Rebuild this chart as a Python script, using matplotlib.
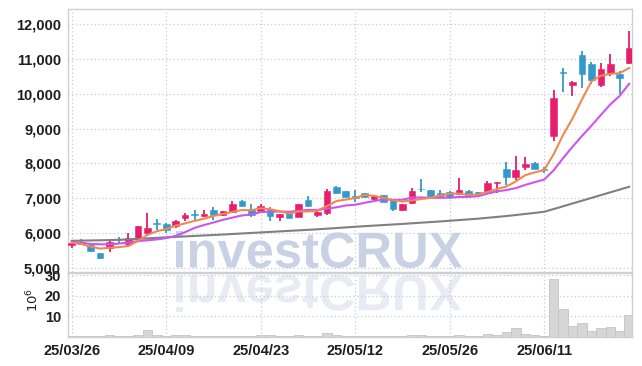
import matplotlib
matplotlib.use("Agg")
import matplotlib.pyplot as plt
from matplotlib.font_manager import FontProperties
from matplotlib.patches import PathPatch
from matplotlib.textpath import TextPath
from matplotlib.transforms import Affine2D, IdentityTransform
import numpy as np

# trading days shown (yy/mm/dd)
dates = [
    "25/03/26", "25/03/27", "25/03/28", "25/03/31", "25/04/01", "25/04/02", "25/04/03", "25/04/04",
    "25/04/07", "25/04/08", "25/04/09", "25/04/10", "25/04/11", "25/04/14", "25/04/15", "25/04/16",
    "25/04/17", "25/04/18", "25/04/21", "25/04/22", "25/04/23", "25/04/24", "25/04/25", "25/04/28",
    "25/04/29", "25/04/30", "25/05/02", "25/05/07", "25/05/08", "25/05/09", "25/05/12", "25/05/13",
    "25/05/14", "25/05/15", "25/05/16", "25/05/19", "25/05/20", "25/05/21", "25/05/22", "25/05/23",
    "25/05/26", "25/05/27", "25/05/28", "25/05/29", "25/05/30", "25/06/02", "25/06/04", "25/06/05",
    "25/06/09", "25/06/10", "25/06/11", "25/06/12", "25/06/13", "25/06/16", "25/06/17", "25/06/18",
    "25/06/19", "25/06/20", "25/06/23", "25/06/24",
]
tick_dates = ["25/03/26", "25/04/09", "25/04/23", "25/05/12", "25/05/26", "25/06/11"]

opens = [5650, 5750, 5650, 5430, 5570, 5810, 5690, 5840, 6000, 6280,
         6270, 6200, 6440, 6540, 6500, 6660, 6530, 6600, 6920, 6680,
         6640, 6680, 6470, 6600, 6470, 6950, 6530, 6590, 7320, 7200,
         7060, 7140, 6990, 7080, 6950, 6660, 6870, 7280, 7230, 7140,
         7190, 7120, 7200, 7180, 7180, 7430, 7830, 7600, 7900, 8020,
         7830, 8780, 10620, 10260, 11100, 10850, 10260, 10600, 10560, 10880]
highs = [5774, 5820, 5660, 5440, 5790, 5900, 6000, 6210, 6570, 6410,
         6280, 6390, 6570, 6650, 6650, 6750, 6640, 6910, 6950, 6850,
         6830, 6760, 6560, 6610, 6850, 7060, 6690, 7260, 7340, 7210,
         7240, 7160, 7100, 7090, 6960, 6850, 7300, 7540, 7250, 7230,
         7220, 7570, 7240, 7190, 7500, 7480, 8040, 8210, 8190, 8040,
         7900, 10100, 10750, 10360, 11230, 10920, 10870, 11130, 10640, 11800]
lows = [5560, 5650, 5460, 5250, 5450, 5710, 5610, 5830, 5950, 6090,
        6000, 6150, 6350, 6390, 6470, 6390, 6500, 6570, 6760, 6450,
        6630, 6350, 6360, 6420, 6460, 6760, 6450, 6520, 7120, 7030,
        6900, 7030, 6950, 6880, 6630, 6640, 6830, 7180, 7050, 7020,
        6980, 7100, 7060, 7060, 7170, 7160, 7390, 7520, 7810, 7830,
        7720, 8650, 10040, 9930, 10150, 10290, 10180, 10500, 9990, 10850]
closes = [5716, 5680, 5500, 5280, 5740, 5790, 5860, 6200, 6160, 6260,
          6100, 6350, 6530, 6520, 6560, 6510, 6630, 6830, 6780, 6530,
          6790, 6500, 6550, 6440, 6830, 6790, 6600, 7210, 7160, 7050,
          7020, 7050, 7060, 6900, 6700, 6830, 7210, 7260, 7060, 7060,
          7060, 7230, 7090, 7090, 7440, 7470, 7600, 7810, 7990, 7840,
          7800, 9870, 10580, 10350, 10560, 10390, 10700, 10850, 10450, 11300]

# moving averages as drawn (5, 10, 60 day)
ma5 = [5720, 5690, 5610, 5555, 5583, 5598, 5634, 5774, 5950, 6054,
       6116, 6214, 6280, 6352, 6412, 6494, 6550, 6610, 6662, 6656,
       6712, 6686, 6630, 6562, 6622, 6622, 6642, 6774, 6918, 6962,
       7008, 7098, 7068, 7016, 6946, 6908, 6940, 6980, 7012, 7084,
       7130, 7134, 7100, 7106, 7182, 7264, 7338, 7482, 7662, 7742,
       7808, 8262, 8816, 9288, 9832, 10350, 10516, 10570, 10590, 10738]
ma10 = [5745, 5720, 5690, 5680, 5680, 5700, 5730, 5770, 5795, 5819,
        5857, 5924, 6027, 6151, 6233, 6305, 6382, 6445, 6507, 6534,
        6603, 6618, 6620, 6612, 6639, 6667, 6664, 6702, 6740, 6792,
        6815, 6870, 6921, 6967, 6954, 6958, 7019, 7024, 7014, 7015,
        7019, 7037, 7040, 7059, 7133, 7197, 7236, 7291, 7384, 7462,
        7536, 7800, 8149, 8475, 8787, 9079, 9389, 9693, 9939, 10285]
ma60 = [5780, 5785, 5790, 5795, 5800, 5810, 5820, 5835, 5850, 5865,
        5880, 5893, 5906, 5920, 5933, 5946, 5960, 5975, 5990, 6005,
        6020, 6035, 6050, 6065, 6080, 6095, 6110, 6128, 6146, 6164,
        6182, 6200, 6216, 6232, 6248, 6264, 6282, 6300, 6318, 6336,
        6355, 6375, 6395, 6415, 6440, 6465, 6490, 6520, 6550, 6580,
        6613, 6690, 6770, 6850, 6930, 7010, 7090, 7170, 7250, 7330]

# volume in millions of shares
volume = [0.3, 0.3, 0.4, 0.6, 0.8, 0.4, 0.5, 1.2, 3.2, 1.0,
          0.6, 0.8, 0.8, 0.6, 0.4, 0.6, 0.5, 0.7, 0.4, 0.5,
          0.8, 0.8, 0.4, 0.5, 0.8, 0.7, 0.4, 1.8, 1.0, 0.5,
          0.4, 0.4, 0.3, 0.5, 0.4, 0.5, 1.0, 0.9, 0.4, 0.4,
          0.4, 0.8, 0.4, 0.4, 1.3, 0.8, 2.2, 4.2, 1.5, 1.0,
          0.5, 28.3, 13.4, 5.2, 7.0, 3.1, 4.2, 4.7, 3.1, 10.5]

UP = "#e61e6b"
DOWN = "#3399cc"
GRID = "#c5cbe0"
SPINE = "#d0d0d0"
LABEL = "#1e1e1e"

tick_font = FontProperties(family=["Liberation Sans", "DejaVu Sans"], weight="bold", size=10.5)

fig = plt.figure(figsize=(6.42, 3.66), dpi=100)
ax = fig.add_axes([68 / 642, 94 / 366, 564 / 642, 263 / 366])
axv = fig.add_axes([68 / 642, 29 / 366, 564 / 642, 64 / 366], sharex=ax)
for a in (ax, axv):
    a.set_facecolor("none")
    for s in a.spines.values():
        s.set_color(SPINE)
        s.set_linewidth(1.0)
    a.grid(True, color=GRID, linestyle=(0, (1, 2)), linewidth=0.9)
    a.tick_params(length=0, colors=LABEL, pad=5)

x = np.arange(len(dates))
o = np.array(opens)
c = np.array(closes)
colors = [UP if cc >= oo else DOWN for oo, cc in zip(o, c)]

ax.vlines(x, lows, highs, colors=colors, linewidth=1.3, zorder=3)
body = np.maximum(np.abs(c - o), 18)
ax.bar(x, body, bottom=np.minimum(o, c), width=0.7, color=colors,
       edgecolor=colors, linewidth=0.4, zorder=4)

ax.plot(x, ma60, color="#808080", lw=1.5, zorder=5)
ax.plot(x, ma10, color="#cc55ee", lw=1.5, zorder=5)
ax.plot(x, ma5, color="#f08850", lw=1.5, zorder=5)

ax.set_ylim(4885, 12430)
ax.set_yticks([5000, 6000, 7000, 8000, 9000, 10000, 11000, 12000])
ax.set_yticklabels([f"{v:,}" for v in ax.get_yticks().astype(int)], fontproperties=tick_font)
ax.tick_params(axis="x", labelbottom=False)

axv.bar(x, volume, width=1.0, color="#d6d6d6", edgecolor="#c4c4c4", linewidth=0.6, zorder=3)
axv.set_ylim(0, 31)
axv.set_yticks([10, 20, 30])
axv.set_yticklabels(["10", "20", "30"], fontproperties=tick_font)
tick_pos = [dates.index(d) for d in tick_dates]
axv.set_xticks(tick_pos)
axv.set_xticklabels(tick_dates, fontproperties=tick_font)
axv.set_xlim(-0.4, len(dates) - 0.7)

fig.text(33 / 642, 1 - 300 / 366, r"$10^6$", rotation=90, ha="center", va="center",
         fontsize=9.5, color=LABEL)

# watermark and its reflection, drawn in pixel space
wm_font = FontProperties(family=["Liberation Sans", "DejaVu Sans"], weight="bold")
tp = TextPath((0, 0), "investCRUX", size=60, prop=wm_font)
ext = tp.get_extents()
sx = (462 - 176) / ext.width
sy = (268 - 231) / ext.height
main_tf = Affine2D().translate(-ext.x0, -ext.y0).scale(sx, sy).translate(176, 366 - 268)
fig.patches.append(PathPatch(main_tf.transform_path(tp), transform=IdentityTransform(),
                             facecolor="#c9d1e5", edgecolor="none", zorder=-1, figure=fig))
refl_tf = Affine2D().translate(-ext.x0, -ext.y0).scale(sx, -sy).translate(176, 366 - 275)
fig.patches.append(PathPatch(refl_tf.transform_path(tp), transform=IdentityTransform(),
                             facecolor="#e8ebf3", edgecolor="none", zorder=-1, figure=fig))

fig.savefig("out.png", dpi=100)
